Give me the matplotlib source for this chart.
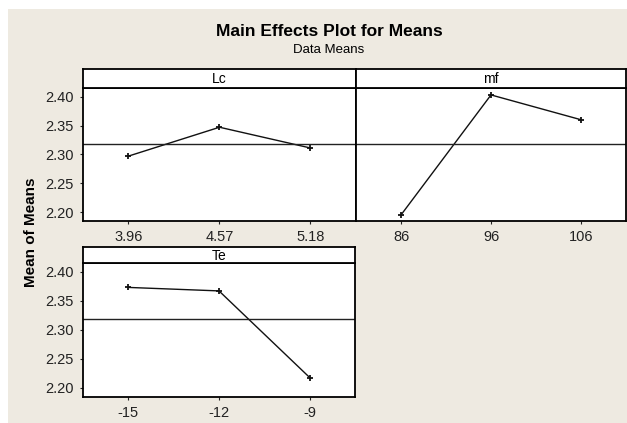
import matplotlib
matplotlib.use("Agg")
import matplotlib.pyplot as plt
from matplotlib.patches import Rectangle

# levels and means
lc_levels = ["3.96", "4.57", "5.18"]
lc_means = [2.297, 2.347, 2.311]
mf_levels = ["86", "96", "106"]
mf_means = [2.195, 2.403, 2.360]
te_levels = ["-15", "-12", "-9"]
te_means = [2.373, 2.367, 2.218]
grand_mean = 2.3187
y_ticks = [2.20, 2.25, 2.30, 2.35, 2.40]

W, H = 627, 423
bg = "#EEEAE1"
plt.rcParams['font.family'] = ['Liberation Sans', 'DejaVu Sans']

fig = plt.figure(figsize=(W / 100, H / 100), dpi=100)
fig.patch.set_facecolor("white")
fig.patches.append(Rectangle((8 / W, 0), 1, 1 - 9 / H, transform=fig.transFigure,
                             facecolor=bg, edgecolor="none", zorder=-10))


def box(x0, y0, x1, y1):
    # pixel box (from top-left) -> figure fraction rect
    return [x0 / W, 1 - y1 / H, (x1 - x0) / W, (y1 - y0) / H]


def panel(rect, strip, name, levels, means, show_y):
    ax = fig.add_axes(rect)
    ax.set_facecolor("white")
    x = list(range(1, len(levels) + 1))
    ax.plot(x, means, color="#111111", lw=1.0, marker="+", ms=5, mew=1.3)
    ax.axhline(grand_mean, color="#222222", lw=1.0)
    ax.set_xlim(0.5, 3.5)
    ax.set_ylim(2.1845, 2.415)
    ax.set_xticks(x)
    ax.set_xticklabels(levels)
    ax.set_yticks(y_ticks)
    ax.set_yticklabels([f"{v:.2f}" for v in y_ticks] if show_y else [])
    ax.tick_params(length=2.5, width=0.8, labelsize=10.5, pad=4, colors="#222222")
    if not show_y:
        ax.tick_params(axis="y", length=0)
    for s in ax.spines.values():
        s.set_linewidth(1.3)
        s.set_color("black")
    sa = fig.add_axes(strip)
    sa.set_facecolor("white")
    sa.set_xticks([])
    sa.set_yticks([])
    for s in sa.spines.values():
        s.set_linewidth(1.3)
    sa.text(0.5, 0.45, name, ha="center", va="center", fontsize=10, transform=sa.transAxes)
    return ax


panel(box(83, 88, 356, 221), box(83, 69, 356, 88), "Lc", lc_levels, lc_means, True)
panel(box(356, 88, 626, 221), box(356, 69, 626, 88), "mf", mf_levels, mf_means, False)
panel(box(83, 263, 355, 397), box(83, 247, 355, 263), "Te", te_levels, te_means, True)

fig.text(329 / W, 1 - 32 / H, "Main Effects Plot for Means", ha="center", va="center",
         fontsize=12.5, fontweight="bold")
fig.text(329 / W, 1 - 50 / H, "Data Means", ha="center", va="center", fontsize=9.5)
fig.text(31 / W, 1 - 232 / H, "Mean of Means", ha="center", va="center",
         rotation=90, fontsize=11, fontweight="bold")

fig.savefig("out.png", dpi=100, facecolor=fig.get_facecolor())
